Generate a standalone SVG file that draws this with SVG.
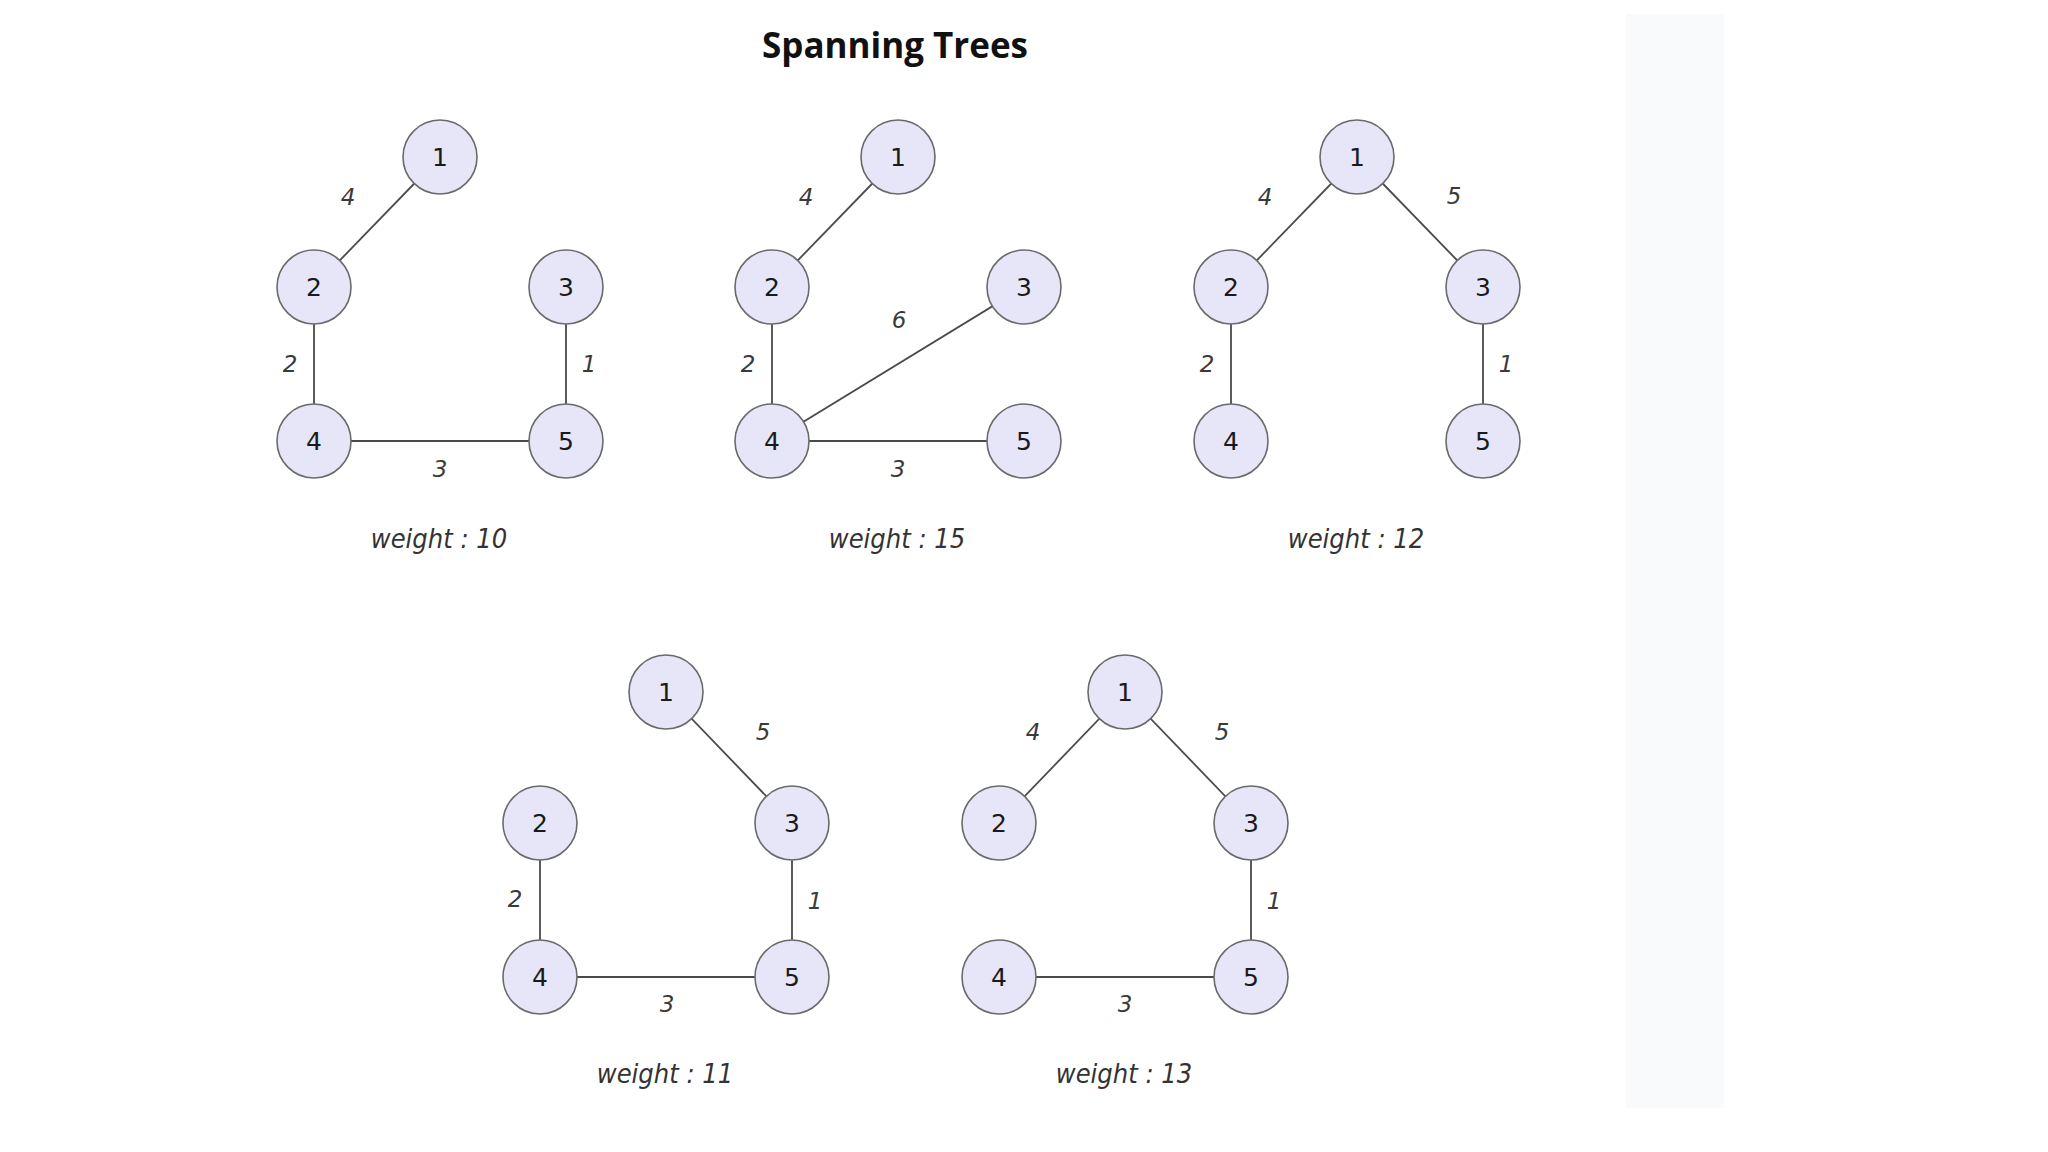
<svg xmlns="http://www.w3.org/2000/svg" width="2048" height="1152" viewBox="0 0 2048 1152">
<style>
.node circle{fill:#e6e6f8;stroke:#6a6a6a;stroke-width:1.6}
.node text{font-family:"DejaVu Sans",sans-serif;font-size:25px;fill:#1a1a1a;text-anchor:middle}
.edges line{stroke:#4a4a4a;stroke-width:1.8}
.el{font-family:"DejaVu Sans",sans-serif;font-style:italic;font-size:23px;fill:#3a3a3a;text-anchor:middle}
.wt{font-family:"DejaVu Sans",sans-serif;font-stretch:condensed;font-style:italic;font-size:27px;fill:#333;text-anchor:middle}
.title{font-family:"Open Sans","Noto Sans",sans-serif;font-weight:bold;font-size:35px;fill:#111;text-anchor:middle}
</style>
<rect width="2048" height="1152" fill="#ffffff"/>
<rect x="1626" y="14" width="98" height="1094" fill="#f9fafc"/>
<text class="title" x="895" y="58">Spanning Trees</text>

<g id="connectors" class="edges">
<line x1="440" y1="157" x2="314" y2="287"/>
<line x1="314" y1="287" x2="314" y2="441"/>
<line x1="566" y1="287" x2="566" y2="441"/>
<line x1="314" y1="441" x2="566" y2="441"/>
<line x1="898" y1="157" x2="772" y2="287"/>
<line x1="772" y1="287" x2="772" y2="441"/>
<line x1="772" y1="441" x2="1024" y2="287"/>
<line x1="772" y1="441" x2="1024" y2="441"/>
<line x1="1357" y1="157" x2="1231" y2="287"/>
<line x1="1357" y1="157" x2="1483" y2="287"/>
<line x1="1231" y1="287" x2="1231" y2="441"/>
<line x1="1483" y1="287" x2="1483" y2="441"/>
<line x1="666" y1="692" x2="792" y2="823"/>
<line x1="540" y1="823" x2="540" y2="977"/>
<line x1="792" y1="823" x2="792" y2="977"/>
<line x1="540" y1="977" x2="792" y2="977"/>
<line x1="1125" y1="692" x2="999" y2="823"/>
<line x1="1125" y1="692" x2="1251" y2="823"/>
<line x1="1251" y1="823" x2="1251" y2="977"/>
<line x1="999" y1="977" x2="1251" y2="977"/>
</g>

<g id="edge-labels">
<text class="el" x="348" y="205">4</text>
<text class="el" x="290" y="372">2</text>
<text class="el" x="589" y="372">1</text>
<text class="el" x="440" y="477">3</text>

<text class="el" x="806" y="205">4</text>
<text class="el" x="748" y="372">2</text>
<text class="el" x="899" y="328">6</text>
<text class="el" x="898" y="477">3</text>

<text class="el" x="1265" y="205">4</text>
<text class="el" x="1454" y="204">5</text>
<text class="el" x="1207" y="372">2</text>
<text class="el" x="1506" y="372">1</text>

<text class="el" x="763" y="740">5</text>
<text class="el" x="515" y="907">2</text>
<text class="el" x="815" y="909">1</text>
<text class="el" x="667" y="1012">3</text>

<text class="el" x="1033" y="740">4</text>
<text class="el" x="1222" y="740">5</text>
<text class="el" x="1274" y="909">1</text>
<text class="el" x="1125" y="1012">3</text>
</g>

<g id="weights">
<text class="wt" x="439" y="548">weight : 10</text>
<text class="wt" x="897" y="548">weight : 15</text>
<text class="wt" x="1356" y="548">weight : 12</text>
<text class="wt" x="665" y="1083">weight : 11</text>
<text class="wt" x="1124" y="1083">weight : 13</text>
</g>

<g id="g1-n1" class="node"><circle cx="440" cy="157" r="37"/><text x="440" y="166">1</text></g>
<g id="g1-n2" class="node"><circle cx="314" cy="287" r="37"/><text x="314" y="296">2</text></g>
<g id="g1-n3" class="node"><circle cx="566" cy="287" r="37"/><text x="566" y="296">3</text></g>
<g id="g1-n4" class="node"><circle cx="314" cy="441" r="37"/><text x="314" y="450">4</text></g>
<g id="g1-n5" class="node"><circle cx="566" cy="441" r="37"/><text x="566" y="450">5</text></g>

<g id="g2-n1" class="node"><circle cx="898" cy="157" r="37"/><text x="898" y="166">1</text></g>
<g id="g2-n2" class="node"><circle cx="772" cy="287" r="37"/><text x="772" y="296">2</text></g>
<g id="g2-n3" class="node"><circle cx="1024" cy="287" r="37"/><text x="1024" y="296">3</text></g>
<g id="g2-n4" class="node"><circle cx="772" cy="441" r="37"/><text x="772" y="450">4</text></g>
<g id="g2-n5" class="node"><circle cx="1024" cy="441" r="37"/><text x="1024" y="450">5</text></g>

<g id="g3-n1" class="node"><circle cx="1357" cy="157" r="37"/><text x="1357" y="166">1</text></g>
<g id="g3-n2" class="node"><circle cx="1231" cy="287" r="37"/><text x="1231" y="296">2</text></g>
<g id="g3-n3" class="node"><circle cx="1483" cy="287" r="37"/><text x="1483" y="296">3</text></g>
<g id="g3-n4" class="node"><circle cx="1231" cy="441" r="37"/><text x="1231" y="450">4</text></g>
<g id="g3-n5" class="node"><circle cx="1483" cy="441" r="37"/><text x="1483" y="450">5</text></g>

<g id="g4-n1" class="node"><circle cx="666" cy="692" r="37"/><text x="666" y="701">1</text></g>
<g id="g4-n2" class="node"><circle cx="540" cy="823" r="37"/><text x="540" y="832">2</text></g>
<g id="g4-n3" class="node"><circle cx="792" cy="823" r="37"/><text x="792" y="832">3</text></g>
<g id="g4-n4" class="node"><circle cx="540" cy="977" r="37"/><text x="540" y="986">4</text></g>
<g id="g4-n5" class="node"><circle cx="792" cy="977" r="37"/><text x="792" y="986">5</text></g>

<g id="g5-n1" class="node"><circle cx="1125" cy="692" r="37"/><text x="1125" y="701">1</text></g>
<g id="g5-n2" class="node"><circle cx="999" cy="823" r="37"/><text x="999" y="832">2</text></g>
<g id="g5-n3" class="node"><circle cx="1251" cy="823" r="37"/><text x="1251" y="832">3</text></g>
<g id="g5-n4" class="node"><circle cx="999" cy="977" r="37"/><text x="999" y="986">4</text></g>
<g id="g5-n5" class="node"><circle cx="1251" cy="977" r="37"/><text x="1251" y="986">5</text></g>
</svg>
